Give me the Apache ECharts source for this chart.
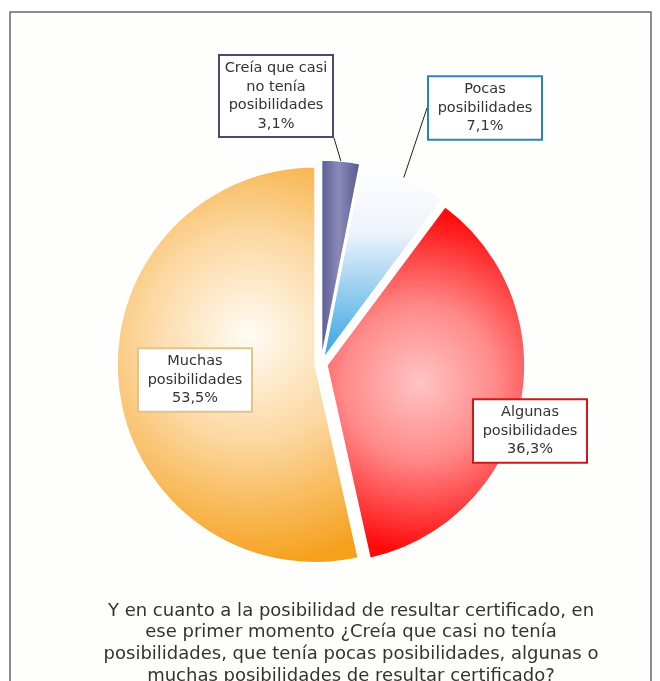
<!DOCTYPE html>
<html><head><meta charset="utf-8">
<script src="https://cdn.jsdelivr.net/npm/echarts@6/dist/echarts.min.js"></script>
<style>html,body{margin:0;padding:0;background:#fff;} #c{width:660px;height:681px;}</style>
</head><body><div id="c"></div>
<script>
const categories = ['Creía que casi\nno tenía\nposibilidades', 'Pocas\nposibilidades', 'Algunas\nposibilidades', 'Muchas\nposibilidades'];
const values = [3.1, 7.1, 36.3, 53.5];
const question = 'Y en cuanto a la posibilidad de resultar certificado, en\nese primer momento ¿Creía que casi no tenía\nposibilidades, que tenía pocas posibilidades, algunas o\nmuchas posibilidades de resultar certificado?';

// styling (not data)
const fills = [
  {type:'linear', x:0, y:0, x2:1, y2:0, colorStops:[{offset:0,color:'#5a5a94'},{offset:0.45,color:'#8a8ab8'},{offset:1,color:'#56568f'}]},
  {type:'linear', x:0, y:0, x2:0, y2:1, colorStops:[{offset:0,color:'#ffffff'},{offset:0.35,color:'#eef4fb'},{offset:1,color:'#30a2e2'}]},
  {type:'radial', x:0.47, y:0.5, r:0.85, colorStops:[{offset:0,color:'#ffc4c4'},{offset:0.45,color:'#ff8a8a'},{offset:1,color:'#ff0a0a'}]},
  {type:'radial', x:0.55, y:0.43, r:0.95, colorStops:[{offset:0,color:'#fffcf5'},{offset:0.45,color:'#fcd8a2'},{offset:1,color:'#f6a01c'}]}
];
const borders = ['#4b4b6e', '#2a86b0', '#cc1a1a', '#e2c48a'];
const labelCenters = [[276, 96], [485, 108], [530, 431], [195, 380]];
const showLines = [true, true, false, false];
const lineToNearestPoint = [true, false, false, false];
const pieCenter = [321, 364];
const pieRadius = 198;
const explode = 6;

const chart = echarts.init(document.getElementById('c'), null, {renderer:'canvas'});
chart.setOption({
  animation: false,
  backgroundColor: '#ffffff',
  graphic: [{type:'rect', z:0, shape:{x:10, y:12, width:641, height:720}, style:{fill:'#fefefd', stroke:'#6a6a6a', lineWidth:1.5}}],
  title: {
    text: question, left: 346, top: 595, textAlign: 'center',
    textStyle: {fontFamily:'DejaVu Sans', fontSize:18, fontWeight:'normal', color:'#333', lineHeight:21.7}
  },
  series: [{
    type: 'pie',
    center: pieCenter,
    radius: pieRadius,
    startAngle: 90,
    clockwise: true,
    selectedMode: 'multiple',
    selectedOffset: explode,
    emphasis: {disabled: true},
    itemStyle: {borderColor:'#ffffff', borderWidth:1.5},
    label: {show: false},
    labelLine: {show: false},
    data: values.map((v, i) => ({
      name: categories[i], value: v, selected: true,
      itemStyle: {color: fills[i]}
    }))
  }, {
    // label layer: same data, invisible sectors at the exploded outer edge
    type: 'pie',
    z: 3,
    silent: true,
    center: pieCenter,
    radius: pieRadius + explode,
    startAngle: 90,
    clockwise: true,
    emphasis: {disabled: true},
    itemStyle: {color: 'rgba(0,0,0,0)', borderWidth: 0},
    label: {
      show: true,
      formatter: p => categories[p.dataIndex] + '\n' + p.value.toFixed(1).replace('.', ',') + '%',
      fontFamily: 'DejaVu Sans', fontSize: 14.5, lineHeight: 18.5, color: '#333',
      width: 100, overflow: 'none',
      backgroundColor: '#ffffff', borderWidth: 2, padding: [3, 6], align: 'center'
    },
    labelLine: {show: true, length: 4, length2: 0, lineStyle: {color:'#222', width:1}},
    labelLayout: p => {
      const i = p.dataIndex;
      const c = labelCenters[i];
      const out = {x: c[0], y: c[1], align: 'center', verticalAlign: 'middle'};
      if (lineToNearestPoint[i] && p.labelLinePoints) {
        const a = p.labelLinePoints[0];
        const w = p.labelRect.width, h = p.labelRect.height;
        const ex = Math.min(Math.max(a[0], c[0] - w / 2), c[0] + w / 2);
        const ey = Math.min(Math.max(a[1], c[1] - h / 2), c[1] + h / 2);
        out.labelLinePoints = [a, [ex, ey], [ex, ey]];
      }
      return out;
    },
    data: values.map((v, i) => ({
      name: categories[i], value: v,
      label: {borderColor: borders[i]},
      labelLine: {show: showLines[i]}
    }))
  }]
});
</script></body></html>
